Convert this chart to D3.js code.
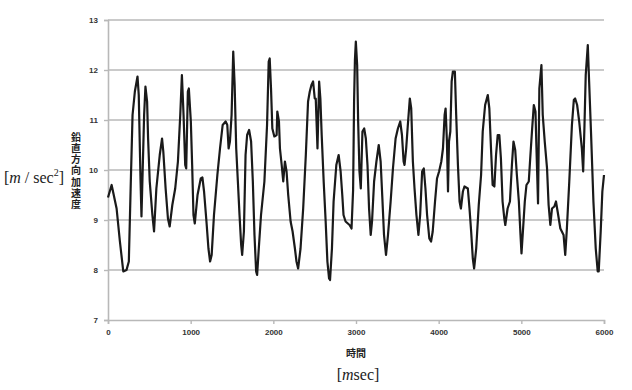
<!DOCTYPE html>
<html><head><meta charset="utf-8">
<script src="https://cdn.jsdelivr.net/npm/d3@7/dist/d3.min.js"></script>
<style>
html,body{margin:0;padding:0;background:#fff;}
svg{display:block;}
</style></head>
<body>
<svg id="chart" width="632" height="390"></svg>
<script>
const times = [0,44,104,144,185,224,252,276,297,325,357,372,393,405,437,453,473,485,505,537,557,585,626,654,669,697,725,746,778,813,846,874,894,914,934,946,966,978,
1002,1018,1034,1050,1083,1122,1142,1162,1191,1215,1235,1254,1282,1323,1355,1387,1423,1443,1459,1475,1495,1515,1532,1551,1571,1591,1611,1623,1644,1664,1683,1707,1731,1752,1772,1792,1804,1824,1851,1892,1924,1944,1956,1972,1988,
2012,2040,2048,2068,2080,2101,2120,2140,2160,2180,2209,2233,2261,2280,2300,2329,2361,2393,2420,2441,2461,2481,2501,2513,2534,2554,2569,2585,2609,2633,2654,2674,2686,2709,2729,2762,2790,2814,2834,2849,2874,2922,2946,2965,2977,2987,2998,
3014,3026,3042,3058,3078,3099,3119,3139,3158,3178,3194,3219,3247,3275,3298,3319,3339,3363,3387,3419,3447,3479,3507,3535,3556,3576,3587,3607,3627,3651,3668,3688,3708,3731,3755,3776,3800,3820,3840,3860,3887,3908,3928,3956,3980,
4005,4032,4052,4072,4084,4100,4113,4125,4141,4157,4172,4196,4212,4233,4253,4269,4293,4312,4353,4373,4393,4413,4429,4454,4485,4513,4533,4562,4594,4613,4633,4653,4674,4694,4714,4734,4753,4773,4794,4806,4834,4862,4886,4905,4926,4946,4970,4990,
5002,5019,5042,5062,5090,5110,5131,5151,5171,5183,5202,5218,5243,5259,5283,5311,5330,5351,5371,5399,5419,5439,5472,5511,5531,5551,5580,5612,5635,5651,5675,5700,5732,5748,5764,5779,5804,5820,5844,5872,5900,5924,5936,5960,5980,6000];
const accel = [9.45,9.7,9.23,8.57,7.97,8.0,8.17,9.77,11.1,11.57,11.87,11.5,9.83,9.07,11.1,11.67,11.37,10.63,9.77,9.1,8.77,9.63,10.3,10.63,10.37,9.63,9.03,8.87,9.3,9.63,10.17,11.1,11.9,11.1,10.1,10.03,11.57,11.63,
10.97,10.1,9.1,8.93,9.5,9.83,9.85,9.57,8.97,8.43,8.17,8.3,9.1,9.9,10.43,10.9,10.97,10.9,10.43,10.57,11.1,12.37,11.7,10.43,9.77,9.1,8.5,8.3,8.77,10.3,10.7,10.8,10.57,9.77,8.7,7.97,7.9,8.43,9.1,9.77,10.9,12.17,12.23,11.63,10.83,
10.67,10.7,11.17,10.97,10.43,10.1,9.77,10.17,9.97,9.5,8.97,8.77,8.43,8.17,8.03,8.43,9.23,10.3,11.37,11.57,11.7,11.77,11.43,11.43,10.43,11.77,11.43,10.7,9.77,8.97,8.17,7.83,7.8,8.43,9.37,10.1,10.3,9.97,9.5,9.1,8.97,8.9,8.83,9.6,11.4,12.2,12.57,
12.1,10.97,9.97,9.63,10.77,10.83,10.63,10.1,9.23,8.7,8.97,9.77,10.17,10.5,10.17,9.43,8.7,8.3,8.7,9.37,10.03,10.63,10.83,10.97,10.7,10.17,10.1,10.43,10.9,11.43,11.23,10.17,9.63,9.1,8.7,9.1,9.97,10.03,9.63,9.1,8.63,8.57,8.77,9.37,9.83,
9.97,10.17,10.43,11.1,11.23,10.57,9.57,10.57,10.77,11.77,11.97,11.97,11.1,10.1,9.37,9.23,9.57,9.67,9.63,9.23,8.77,8.23,8.03,8.43,9.3,9.9,10.77,11.3,11.5,11.23,10.43,9.7,9.67,10.3,10.7,10.7,10.23,9.37,9.03,8.9,9.23,9.37,10.1,10.57,10.4,9.9,9.37,8.7,
8.33,8.77,9.37,9.7,9.77,10.3,10.83,11.3,11.17,10.43,9.33,11.63,12.1,11.1,10.57,10.03,9.3,8.9,9.23,9.27,9.37,9.17,8.83,8.7,8.3,8.83,9.77,10.9,11.4,11.43,11.3,10.97,10.43,9.97,10.9,11.9,12.5,11.77,10.7,9.37,8.43,7.97,7.97,8.77,9.57,9.9];
const xTicks = [0,1000,2000,3000,4000,5000,6000];
const yTicks = [7,8,9,10,11,12,13];
const yTitle = "鉛直方向加速度";
const xTitle = "時間";

const svg = d3.select("#chart");
const mLeft = 108, mRight = 604, mTop = 20, mBottom = 320;
const x = d3.scaleLinear().domain([0,6000]).range([mLeft,mRight]);
const y = d3.scaleLinear().domain([7,13]).range([mBottom,mTop]);

const gridColor = "#b8b8b8";
svg.append("g").selectAll("line").data(yTicks.filter(d=>d>7)).join("line")
  .attr("x1",mLeft).attr("x2",mRight).attr("y1",d=>y(d)).attr("y2",d=>y(d))
  .attr("stroke",gridColor).attr("stroke-width",1.6);

const yAxis = svg.append("g").attr("transform",`translate(${mLeft},0)`)
  .call(d3.axisLeft(y).tickValues(yTicks).tickSize(4).tickPadding(6).tickFormat(d3.format("d")));
const xAxis = svg.append("g").attr("transform",`translate(0,${mBottom})`)
  .call(d3.axisBottom(x).tickValues(xTicks).tickSize(4).tickPadding(5).tickFormat(d3.format("d")));
[yAxis,xAxis].forEach(g=>{
  g.select(".domain").attr("stroke",gridColor).attr("stroke-width",1.6);
  g.selectAll(".tick line").attr("stroke",gridColor).attr("stroke-width",1.4);
  g.selectAll("text").attr("fill","#333").attr("font-family","Liberation Sans, Arial, sans-serif")
    .attr("font-size",8).attr("font-weight","bold");
});

const pts = times.map((t,i)=>[t,accel[i]]);
svg.append("path").datum(pts)
  .attr("fill","none").attr("stroke","#1a1a1a").attr("stroke-width",2.2)
  .attr("stroke-linejoin","round")
  .attr("d",d3.line().x(d=>x(d[0])).y(d=>y(d[1])));

svg.append("text").attr("x",76).attr("y",132)
  .style("writing-mode","vertical-rl").style("letter-spacing","1.2px")
  .attr("font-size",10).attr("font-weight","bold")
  .attr("font-family","Noto Sans CJK JP").attr("fill","#222").text(yTitle);

const uy = svg.append("text").attr("x",34).attr("y",183).attr("text-anchor","middle")
  .attr("font-family","Liberation Serif, Times New Roman, serif").attr("font-size",16).attr("fill","#222");
uy.append("tspan").text("[");
uy.append("tspan").attr("font-style","italic").text("m");
uy.append("tspan").text(" / sec");
uy.append("tspan").attr("font-size",10).attr("dy",-7).text("2");
uy.append("tspan").attr("dy",7).text("]");

svg.append("text").attr("x",356).attr("y",357).attr("text-anchor","middle")
  .attr("font-size",10).attr("font-weight","bold").attr("font-family","Noto Sans CJK JP")
  .attr("fill","#222").text(xTitle);
const ux = svg.append("text").attr("x",358).attr("y",380).attr("text-anchor","middle")
  .attr("font-family","Liberation Serif, Times New Roman, serif").attr("font-size",16).attr("fill","#222");
ux.append("tspan").text("[");
ux.append("tspan").attr("font-style","italic").text("m");
ux.append("tspan").text("sec]");
</script>
</body></html>
